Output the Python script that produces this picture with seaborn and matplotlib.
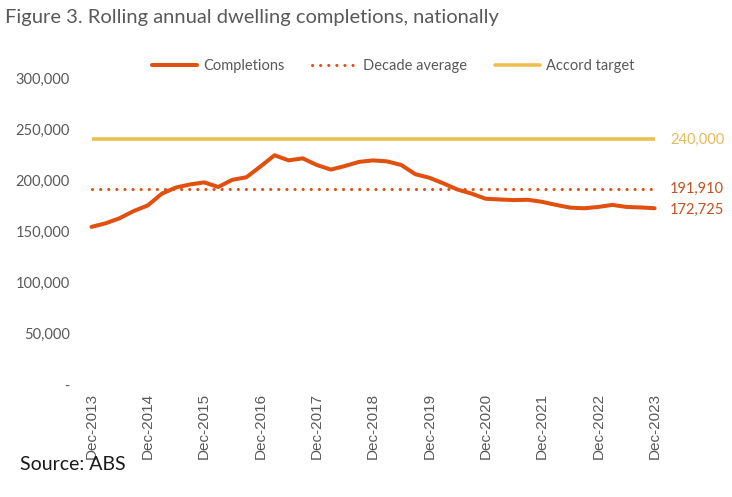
import numpy as np
import pandas as pd
import matplotlib.pyplot as plt
import seaborn as sns
from matplotlib.lines import Line2D
from matplotlib.ticker import FuncFormatter

# quarterly rolling annual completions, Dec-2013 .. Dec-2023
quarters = pd.period_range("2013Q4", "2023Q4", freq="Q")
completions = [
    154500, 158000, 163000, 170000, 175500, 187000, 193000, 196000, 198000,
    193500, 200500, 203000, 213500, 224500, 219500, 221500, 215000, 210500,
    214000, 218000, 219500, 218500, 215000, 206000, 202500, 197000, 191000,
    187000, 182000, 181300, 180700, 181000, 179000, 176000, 173300, 172700,
    174000, 176000, 174000, 173500, 172725,
]
decade_average = 191910
accord_target = 240000
tick_labels = [f"Dec-{y}" for y in range(2013, 2024)]

c_comp = "#E0500F"
c_target = "#EDBF4F"
c_avg_text = "#C4501F"
c_target_text = "#E6B95C"
grey = "#595959"

df = pd.DataFrame({"idx": np.arange(len(quarters)), "Completions": completions})

sns.set_theme(style="white")
plt.rcParams["font.family"] = ["Lato", "DejaVu Sans"]

fig = plt.figure(figsize=(7.32, 4.97), dpi=100)
ax = fig.add_axes([78 / 732, 112 / 497, 590 / 732, 307 / 497])

n = len(df)
ax.plot([0, n - 1], [accord_target] * 2, color=c_target, lw=2.6, solid_capstyle="butt")
ax.plot([0, n - 1], [decade_average] * 2, color=c_comp, lw=2.2,
        linestyle=(0, (0.05, 2.6)), dash_capstyle="round")
sns.lineplot(data=df, x="idx", y="Completions", ax=ax, color=c_comp, lw=2.9)

ax.set_xlim(-0.96, n - 1 + 0.95)
ax.set_ylim(0, 300000)
ax.set_yticks(np.arange(0, 300001, 50000))
ax.yaxis.set_major_formatter(FuncFormatter(lambda v, p: "-" if v == 0 else f"{v:,.0f}"))
ax.set_xticks(np.arange(0, n, 4))
ax.set_xticklabels(tick_labels, rotation=90, family=["Liberation Sans", "DejaVu Sans"],
                   fontsize=11, color=grey)
ax.tick_params(axis="y", labelsize=10.5, labelcolor=grey, length=0, pad=6)
ax.tick_params(axis="x", length=0, pad=6)
ax.set_xlabel("")
ax.set_ylabel("")
for s in ax.spines.values():
    s.set_visible(False)

# end labels
ax.annotate(f"{accord_target:,}", (n - 1, accord_target), xytext=(11, 0),
            textcoords="offset points", va="center", fontsize=10.5, color=c_target_text)
ax.annotate(f"{decade_average:,}", (n - 1, decade_average), xytext=(11, 0),
            textcoords="offset points", va="center", fontsize=10.5, color=c_avg_text)
ax.annotate(f"{completions[-1]:,}", (n - 1, completions[-1]), xytext=(11, -1),
            textcoords="offset points", va="center", fontsize=10.5, color=c_avg_text)

handles = [
    Line2D([], [], color=c_comp, lw=2.9),
    Line2D([], [], color=c_comp, lw=2.2, linestyle=(0, (0.05, 2.6)), dash_capstyle="round"),
    Line2D([], [], color=c_target, lw=2.6),
]
leg = fig.legend(handles, ["Completions", "Decade average", "Accord target"],
                 loc="center", bbox_to_anchor=(393 / 732, 1 - 66 / 497), ncol=3,
                 frameon=False, fontsize=10.5, handlelength=3.1, handletextpad=0.4,
                 columnspacing=1.9)
for t in leg.get_texts():
    t.set_color(grey)

fig.text(5 / 732, 1 - 18 / 497, "Figure 3. Rolling annual dwelling completions, nationally",
         fontsize=14.5, color=grey, va="center", ha="left")
fig.text(20 / 732, 1 - 465 / 497, "Source: ABS", fontsize=14, color="#1a1a1a",
         va="center", ha="left")

fig.savefig("out.png", dpi=100)
